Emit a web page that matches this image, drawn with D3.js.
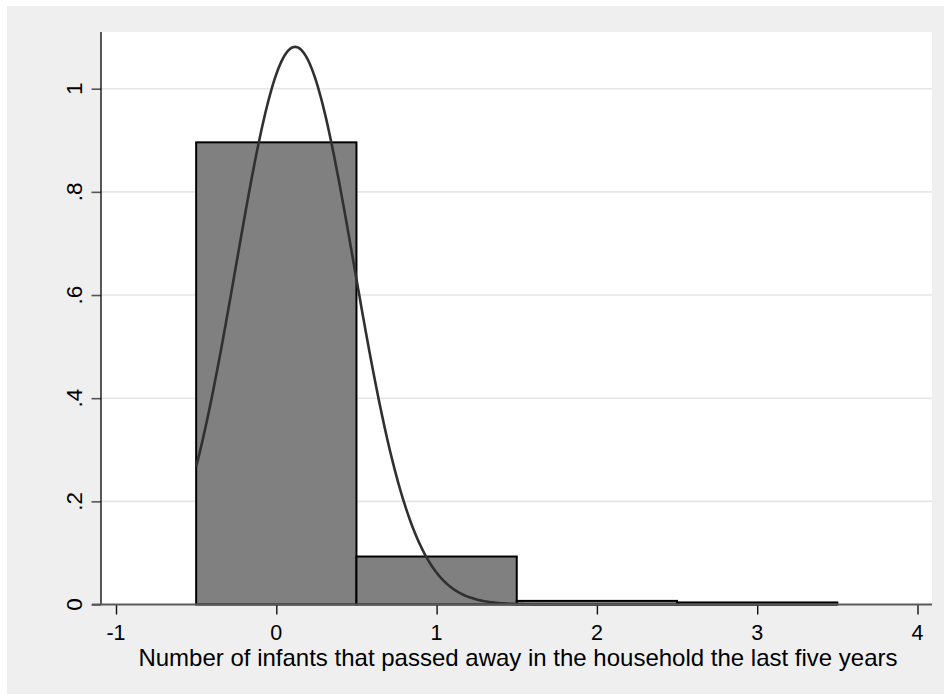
<!DOCTYPE html>
<html>
<head>
<meta charset="utf-8">
<script src="https://cdn.jsdelivr.net/npm/d3@7"></script>
<style>
  html, body { margin: 0; padding: 0; background: #ffffff; }
  svg { display: block; }
  text { font-family: "Liberation Sans", Arial, Helvetica, sans-serif; fill: #000; }
</style>
</head>
<body>
<svg id="chart" width="944" height="696"></svg>
<script>
// Histogram bins (width 1, centred on the integer counts) and their densities
const binCenters = [0, 1, 2, 3];
const binDensity = [0.896, 0.093, 0.007, 0.004];
const binWidth = 1;

// Overlaid normal density parameters
const normalMean = 0.117;
const normalSd = 0.369;

// Axis ticks
const xTicks = [-1, 0, 1, 2, 3, 4];
const yTicks = [0, 0.2, 0.4, 0.6, 0.8, 1];
const yTickLabels = ["0", ".2", ".4", ".6", ".8", "1"];
const xTitle = "Number of infants that passed away in the household the last five years";

const svg = d3.select("#chart");
const W = 944, H = 696;

// Graph region background
svg.append("rect")
  .attr("x", 7).attr("y", 6)
  .attr("width", W - 7).attr("height", H - 8)
  .attr("fill", "#efefef");

const plot = { left: 101, right: 932, top: 32, bottom: 604.5 };

const x = d3.scaleLinear().domain([-1, 4]).range([116, 917.5]);
const y = d3.scaleLinear().domain([0, 1]).range([plot.bottom, 88.7]);

// Plot region
svg.append("rect")
  .attr("x", plot.left).attr("y", plot.top)
  .attr("width", plot.right - plot.left).attr("height", plot.bottom - plot.top)
  .attr("fill", "#ffffff");

// Horizontal grid lines
svg.append("g")
  .selectAll("line")
  .data(yTicks.filter(d => d > 0))
  .join("line")
  .attr("x1", plot.left).attr("x2", plot.right)
  .attr("y1", d => y(d)).attr("y2", d => y(d))
  .attr("stroke", "#e6e6e6")
  .attr("stroke-width", 1.6);

// Histogram bars
svg.append("g")
  .selectAll("rect")
  .data(binCenters.map((c, i) => ({ c, v: binDensity[i] })))
  .join("rect")
  .attr("x", d => x(d.c - binWidth / 2))
  .attr("width", d => x(d.c + binWidth / 2) - x(d.c - binWidth / 2))
  .attr("y", d => y(d.v))
  .attr("height", d => y(0) - y(d.v))
  .attr("fill", "#808080")
  .attr("stroke", "#000")
  .attr("stroke-width", 2);

// Normal density curve over the data range
const lo = binCenters[0] - binWidth / 2;
const hi = binCenters[binCenters.length - 1] + binWidth / 2;
const curvePts = d3.range(0, 401).map(i => {
  const xv = lo + (hi - lo) * i / 400;
  const z = (xv - normalMean) / normalSd;
  return [xv, Math.exp(-0.5 * z * z) / (normalSd * Math.sqrt(2 * Math.PI))];
});
svg.append("path")
  .datum(curvePts)
  .attr("fill", "none")
  .attr("stroke", "#303030")
  .attr("stroke-width", 2.6)
  .attr("d", d3.line().x(d => x(d[0])).y(d => y(d[1])));

// Y axis
const yAxis = svg.append("g").attr("transform", `translate(${plot.left},0)`)
  .call(d3.axisLeft(y).tickValues(yTicks).tickSize(9.5).tickFormat((d, i) => yTickLabels[i]));
yAxis.select(".domain").remove();
yAxis.selectAll(".tick line").attr("stroke", "#555").attr("stroke-width", 1.6);
yAxis.selectAll(".tick text").remove();
yAxis.append("line")
  .attr("x1", 0).attr("x2", 0)
  .attr("y1", plot.top).attr("y2", plot.bottom)
  .attr("stroke", "#000").attr("stroke-width", 1.3);

svg.append("g")
  .selectAll("text")
  .data(yTicks)
  .join("text")
  .attr("transform", d => `translate(82,${y(d)}) rotate(-90)`)
  .attr("text-anchor", "middle")
  .attr("font-size", 22.5)
  .text((d, i) => yTickLabels[i]);

// X axis
const xAxis = svg.append("g").attr("transform", `translate(0,${plot.bottom})`)
  .call(d3.axisBottom(x).tickValues(xTicks).tickSize(10).tickFormat(d3.format("d")));
xAxis.select(".domain").remove();
xAxis.selectAll(".tick line").attr("stroke", "#111").attr("stroke-width", 1.4);
xAxis.selectAll(".tick text").remove();
xAxis.append("line")
  .attr("x1", 92).attr("x2", plot.right)
  .attr("y1", 0).attr("y2", 0)
  .attr("stroke", "#5a5a5a").attr("stroke-width", 2);

svg.append("g")
  .selectAll("text")
  .data(xTicks)
  .join("text")
  .attr("x", d => x(d))
  .attr("y", 639.5)
  .attr("text-anchor", "middle")
  .attr("font-size", 21.5)
  .text(d => d3.format("d")(d).replace("−", "-"));

// X axis title
svg.append("text")
  .attr("x", (plot.left + plot.right) / 2 + 1.5)
  .attr("y", 666)
  .attr("text-anchor", "middle")
  .attr("font-size", 24)
  .text(xTitle);
</script>
</body>
</html>
